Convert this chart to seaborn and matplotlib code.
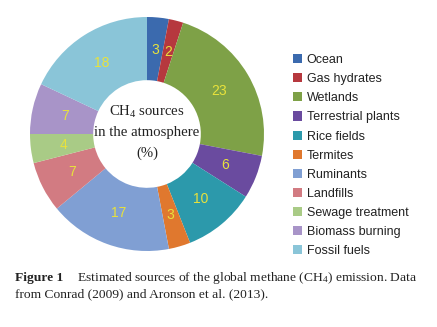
import matplotlib
matplotlib.use("Agg")
import matplotlib.pyplot as plt
import seaborn as sns

# Global CH4 sources, percent share
sources = ["Ocean", "Gas hydrates", "Wetlands", "Terrestrial plants", "Rice fields",
           "Termites", "Ruminants", "Landfills", "Sewage treatment",
           "Biomass burning", "Fossil fuels"]
shares = [3, 2, 23, 6, 10, 3, 17, 7, 4, 7, 18]
hex_colors = ["#3b6aae", "#b6383e", "#7ea147", "#6a4b9f", "#2c99ab", "#e0782e",
              "#809fd3", "#d27b82", "#a9cb86", "#a894c8", "#8ac5d8"]

sns.set_theme(style="white")
plt.rcParams["mathtext.default"] = "regular"
palette = sns.color_palette(hex_colors)

W, H = 437, 327
fig = plt.figure(figsize=(W / 100, H / 100), dpi=100)
fig.patch.set_facecolor("white")

# donut axes: centre (147, 134) px, radius 117 px
cx, cy, r = 147, 134, 117
ax = fig.add_axes([(cx - r) / W, (H - cy - r) / H, 2 * r / W, 2 * r / H])
wedges, _, autotexts = ax.pie(
    shares, colors=palette, startangle=90, counterclock=False,
    radius=1.0, autopct=lambda p: f"{p:.0f}", pctdistance=0.72,
    wedgeprops=dict(width=0.54, linewidth=0),
    textprops=dict(color="#e8e23c", fontsize=10, family="Liberation Sans"))
ax.set_xlim(-1, 1)
ax.set_ylim(-1, 1)
ax.set_aspect("equal")
ax.axis("off")

ax.text(0, 0.02, "CH$_4$ sources\nin the atmosphere\n(%)", ha="center", va="center",
        fontsize=10.6, family="Liberation Serif", color="#222222", linespacing=1.65)

leg = fig.legend(wedges, sources, loc="upper left",
                 bbox_to_anchor=(293 / W, 1 - 54 / H), frameon=False,
                 prop=dict(family="Liberation Sans", size=9),
                 handlelength=0.75, handleheight=0.75, handletextpad=0.35,
                 labelspacing=0.57, borderaxespad=0, borderpad=0)
for t in leg.get_texts():
    t.set_color("#222222")

fig.text(15 / W, 1 - 278 / H, "Figure 1", fontsize=9.7, fontweight="bold",
         family="Liberation Serif", va="center", color="#222222")
fig.text(77 / W, 1 - 278 / H,
         "Estimated sources of the global methane (CH$_4$) emission. Data",
         fontsize=9.7, family="Liberation Serif", va="center", color="#222222")
fig.text(15 / W, 1 - 294 / H, "from Conrad (2009) and Aronson et al. (2013).",
         fontsize=9.7, family="Liberation Serif", va="center", color="#222222")

fig.savefig("out.png", dpi=100, facecolor="white")
